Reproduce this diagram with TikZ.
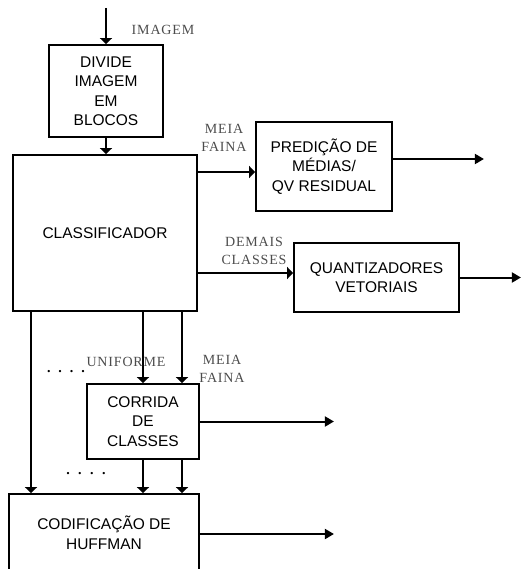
\documentclass[tikz,border=0pt]{standalone}
\usepackage{fontspec}
\setmainfont{Liberation Serif}
\setsansfont{Liberation Sans}
\newfontfamily\lblfont[LetterSpace=6]{Liberation Serif}
\usetikzlibrary{arrows.meta,calc}
\begin{document}
\begin{tikzpicture}[x=1pt,y=-1pt,
  blk/.style={draw,line width=1.8pt,rectangle,inner sep=0pt,align=center,
    font=\sffamily\fontsize{15.5}{19.5}\selectfont},
  wire/.style={line width=2pt},
  inarr/.style={wire,-{Triangle[length=6pt,width=12pt]}},
  outarr/.style={wire,-{Triangle[length=9pt,width=10pt]}},
  lbl/.style={inner sep=0pt,align=center,text=black!70,
    font=\lblfont\fontsize{14}{18}\selectfont},
  dots/.style={inner sep=0pt,font=\bfseries\fontsize{14}{14}\selectfont}]
\useasboundingbox (0,0) rectangle (521,569);
% blocks
\node[blk,minimum width=114pt,minimum height=92pt] (div) at (106,91) {DIVIDE\\IMAGEM\\EM\\BLOCOS};
\node[blk,minimum width=184pt,minimum height=156pt] (cls) at (105,233) {CLASSIFICADOR};
\node[blk,minimum width=136pt,minimum height=89pt] (pred) at (324,166.5) {PREDIÇÃO DE\\MÉDIAS/\\QV RESIDUAL};
\node[blk,minimum width=165pt,minimum height=69pt] (quant) at (376.5,277.5) {QUANTIZADORES\\VETORIAIS};
\node[blk,minimum width=112pt,minimum height=75pt] (corr) at (143,421.5) {CORRIDA\\DE\\CLASSES};
\node[blk,minimum width=190pt,minimum height=78pt] (huff) at (104,533) {CODIFICAÇÃO DE\\HUFFMAN};
% free ends / helper coordinates
\coordinate (in) at (106,8);
\coordinate (xa) at (31,0);
\coordinate (xb) at (143,0);
\coordinate (xc) at (182,0);
\coordinate (pin) at ([yshift=-5.5pt]pred.west);
\coordinate (qin) at ([yshift=4.5pt]quant.west);
\coordinate (pout) at ($(pred.east)+(91,-7.5)$);
\coordinate (qout) at ($(quant.east)+(61,0)$);
\coordinate (cout) at ($(corr.east)+(134,0)$);
\coordinate (hout) at ($(huff.east)+(134,1)$);
% connectors
\draw[inarr] (in) -- (div.north);
\draw[inarr] (div.south) -- (cls.north -| div.south);
\draw[inarr] (cls.east |- pin) -- (pin);
\draw[inarr] (cls.east |- qin) -- (qin);
\draw[outarr] ([yshift=7.5pt]pred.east) -- (pout);
\draw[outarr] (quant.east) -- (qout);
\draw[outarr] (corr.east) -- (cout);
\draw[outarr] (huff.east |- hout) -- (hout);
\draw[inarr] (cls.south -| xa) -- (huff.north -| xa);
\draw[inarr] (cls.south -| xb) -- (corr.north -| xb);
\draw[inarr] (cls.south -| xc) -- (corr.north -| xc);
\draw[inarr] (corr.south -| xb) -- (huff.north -| xb);
\draw[inarr] (corr.south -| xc) -- (huff.north -| xc);
% labels
\node[lbl] (limg) at (163,30) {IMAGEM};
\node[lbl] (lmf1) at (224,137.5) {MEIA\\FAINA};
\node[lbl] (ldc) at (254,250.5) {DEMAIS\\CLASSES};
\node[lbl] (luni) at (126,362) {UNIFORME};
\node[lbl] (lmf2) at (222,369) {MEIA\\FAINA};
\node[dots] (d1) at (66,372) {.\hspace{8pt}.\hspace{8pt}.\hspace{8pt}.};
\node[dots] (d2) at (86,474) {.\hspace{8.5pt}.\hspace{8.5pt}.\hspace{8.5pt}.};
\end{tikzpicture}
\end{document}
